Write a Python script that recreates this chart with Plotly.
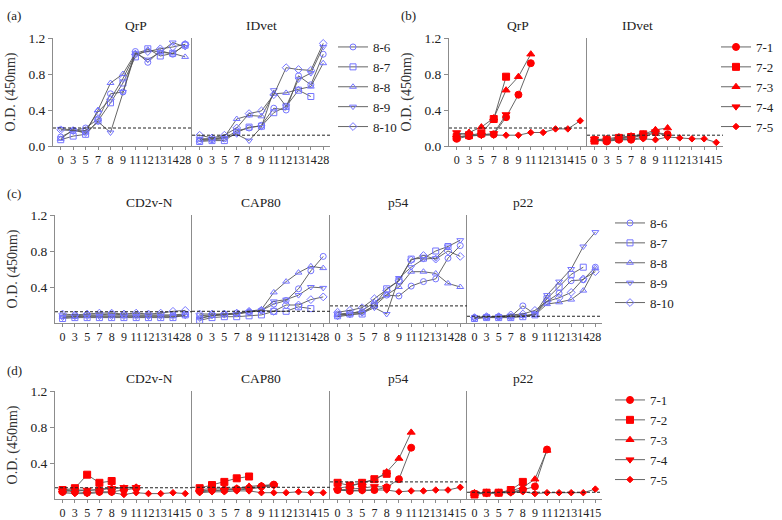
import plotly.graph_objects as go

# sampling days (x categories)
days_28 = ["0", "3", "5", "7", "8", "9", "11", "12", "13", "14", "28"]
days_15 = ["0", "3", "5", "7", "8", "9", "11", "12", "13", "14", "15"]

pigs_8 = ["8-6", "8-7", "8-8", "8-9", "8-10"]
pigs_7 = ["7-1", "7-2", "7-3", "7-4", "7-5"]

# (a) group 8 pigs, commercial kits
a_qrp = [
    [0.10, 0.17, 0.20, 0.30, 0.58, 0.60, 1.05, 0.93, 1.06, 1.02, 1.13],
    [0.07, 0.11, 0.13, 0.28, 0.48, 0.70, 0.99, 1.08, 1.00, 1.03, 1.12],
    [0.08, 0.18, 0.15, 0.40, 0.70, 0.80, 1.03, 1.07, 1.04, 1.03, 0.99],
    [0.19, 0.18, 0.14, 0.27, 0.15, 0.60, 1.03, 0.96, 1.04, 1.15, 1.10],
    [0.18, 0.17, 0.17, 0.38, 0.52, 0.75, 1.02, 1.05, 1.08, 1.10, 1.13],
]
a_idvet = [
    [0.06, 0.07, 0.08, 0.17, 0.20, 0.23, 0.42, 0.40, 0.78, 0.68, 1.02],
    [0.05, 0.06, 0.06, 0.15, 0.21, 0.22, 0.37, 0.44, 0.62, 0.55, None],
    [0.07, 0.08, 0.10, 0.30, 0.34, 0.33, 0.58, 0.59, 0.63, 0.66, 0.92],
    [0.08, 0.08, 0.09, 0.13, 0.06, 0.21, 0.62, 0.44, 0.74, 0.81, 1.10],
    [0.12, 0.09, 0.12, 0.20, 0.36, 0.39, 0.57, 0.87, 0.85, 0.84, 1.14],
]

# (b) group 7 pigs, commercial kits
b_qrp = [
    [0.08, 0.11, 0.13, 0.13, 0.32, 0.57, 0.92],
    [0.10, 0.12, 0.14, 0.30, 0.77],
    [0.12, 0.15, 0.21, 0.31, 0.62, 0.77, 1.02],
    [0.15, 0.12, 0.12, 0.14, 0.35],
    [0.10, 0.11, 0.12, 0.12, 0.12, 0.12, 0.15, 0.15, 0.19, 0.19, 0.28],
]
b_idvet = [
    [0.07, 0.05, 0.07, 0.07, 0.10, 0.15, 0.13],
    [0.06, 0.07, 0.09, 0.10, 0.13],
    [0.07, 0.08, 0.10, 0.11, 0.13, 0.18, 0.20],
    [0.08, 0.06, 0.08, 0.09, 0.12, 0.16, 0.10],
    [0.06, 0.06, 0.07, 0.07, 0.08, 0.07, 0.10, 0.09, 0.08, 0.08, 0.04],
]

# (c) group 8 pigs, in-house antigens
c_cd2v = [
    [0.08, 0.08, 0.09, 0.09, 0.10, 0.09, 0.09, 0.09, 0.09, 0.09, 0.10],
    [0.05, 0.06, 0.06, 0.06, 0.06, 0.06, 0.06, 0.06, 0.06, 0.06, 0.09],
    [0.07, 0.07, 0.08, 0.08, 0.08, 0.08, 0.08, 0.08, 0.08, 0.08, 0.09],
    [0.06, 0.07, 0.07, 0.07, 0.07, 0.07, 0.07, 0.07, 0.07, 0.07, 0.08],
    [0.10, 0.09, 0.10, 0.11, 0.11, 0.10, 0.11, 0.10, 0.11, 0.13, 0.14],
]
c_cap80 = [
    [0.08, 0.09, 0.10, 0.11, 0.12, 0.14, 0.21, 0.25, 0.38, 0.58, 0.74],
    [0.03, 0.06, 0.07, 0.07, 0.08, 0.09, 0.13, 0.13, 0.18, 0.16, None],
    [0.06, 0.08, 0.10, 0.10, 0.13, 0.15, 0.34, 0.46, 0.56, 0.63, 0.61],
    [0.05, 0.08, 0.09, 0.10, 0.12, 0.14, 0.24, 0.26, 0.31, 0.40, 0.39],
    [0.10, 0.10, 0.10, 0.11, 0.13, 0.14, 0.13, 0.20, 0.20, 0.26, 0.29],
]
c_p54 = [
    [0.10, 0.11, 0.12, 0.19, 0.31, 0.30, 0.41, 0.46, 0.49, 0.72, 0.86],
    [0.08, 0.10, 0.10, 0.20, 0.38, 0.47, 0.71, 0.72, 0.80, 0.85, None],
    [0.09, 0.10, 0.14, 0.23, 0.31, 0.40, 0.57, 0.57, 0.55, 0.44, 0.40],
    [0.07, 0.09, 0.11, 0.17, 0.10, 0.50, 0.62, 0.71, 0.72, 0.85, 0.92],
    [0.12, 0.14, 0.17, 0.27, 0.36, 0.47, 0.70, 0.75, 0.71, 0.80, 0.74],
]
c_p22 = [
    [0.06, 0.07, 0.07, 0.07, 0.19, 0.10, 0.24, 0.33, 0.47, 0.48, 0.62],
    [0.05, 0.06, 0.06, 0.06, 0.07, 0.09, 0.27, 0.40, 0.54, 0.62, None],
    [0.06, 0.06, 0.07, 0.07, 0.08, 0.09, 0.21, 0.23, 0.26, 0.36, 0.61],
    [0.05, 0.07, 0.07, 0.08, 0.08, 0.10, 0.31, 0.46, 0.60, 0.85, 1.01],
    [0.06, 0.07, 0.07, 0.09, 0.10, 0.14, 0.24, 0.28, 0.34, 0.49, 0.57],
]

# (d) group 7 pigs, in-house antigens
d_cd2v = [
    [0.08, 0.08, 0.07, 0.08, 0.08, 0.10, 0.12],
    [0.10, 0.12, 0.27, 0.18, 0.20],
    [0.10, 0.10, 0.09, 0.11, 0.12, 0.12, 0.13],
    [0.09, 0.10, 0.10, 0.10, 0.12, 0.13, 0.13],
    [0.07, 0.06, 0.06, 0.07, 0.07, 0.05, 0.07, 0.06, 0.06, 0.07, 0.06],
]
d_cap80 = [
    [0.09, 0.10, 0.10, 0.11, 0.12, 0.14, 0.16],
    [0.12, 0.155, 0.19, 0.23, 0.25],
    [0.10, 0.12, 0.12, 0.12, 0.14, 0.15, 0.16],
    [0.08, 0.09, 0.10, 0.10, 0.11, 0.13, 0.15],
    [0.07, 0.08, 0.08, 0.09, 0.09, 0.07, 0.07, 0.07, 0.08, 0.07, 0.07],
]
d_p54 = [
    [0.10, 0.09, 0.10, 0.10, 0.13, 0.22, 0.57],
    [0.18, 0.15, 0.18, 0.22, 0.28],
    [0.12, 0.14, 0.18, 0.21, 0.30, 0.45, 0.74],
    [0.10, 0.11, 0.12, 0.14, 0.13],
    [0.10, 0.09, 0.09, 0.10, 0.10, 0.08, 0.09, 0.09, 0.10, 0.10, 0.13],
]
d_p22 = [
    [0.06, 0.07, 0.07, 0.08, 0.10, 0.14, 0.55],
    [0.05, 0.07, 0.07, 0.10, 0.19],
    [0.06, 0.07, 0.07, 0.09, 0.13, 0.22, 0.54],
    [0.06, 0.06, 0.07, 0.07, 0.10],
    [0.07, 0.07, 0.07, 0.07, 0.08, 0.06, 0.07, 0.07, 0.07, 0.07, 0.11],
]

# cut-off values (dashed lines)
cut_qrp = 0.20
cut_idvet = 0.12
cut_cd2v = 0.125
cut_cap80 = 0.13
cut_p54 = 0.19
cut_p22 = 0.075

W, H = 782, 520
FONT = "Liberation Serif"
BLUE = "#7575ff"
RED = "#ff0000"
sym_open = ["circle-open", "square-open", "triangle-up-open", "triangle-down-open", "diamond-open"]
sym_fill = ["circle", "square", "triangle-up", "triangle-down", "diamond"]
size_open = [6, 6, 6, 6, 6]
size_fill = [7, 7, 7, 7, 5]

# (title, data, cutoff, days, group, x-left px, x-right px, y-zero px, y-top px, legend name, first in row)
panels = [
    ("QrP", a_qrp, cut_qrp, days_28, 8, 53, 192, 146, 38, "legend", True),
    ("IDvet", a_idvet, cut_idvet, days_28, 8, 192, 330, 146, 38, None, False),
    ("QrP", b_qrp, cut_qrp, days_15, 7, 449, 587, 146, 38, "legend2", True),
    ("IDvet", b_idvet, cut_idvet, days_15, 7, 587, 723, 146, 38, None, False),
    ("CD2v-N", c_cd2v, cut_cd2v, days_28, 8, 55, 192, 323, 215, "legend3", True),
    ("CAP80", c_cap80, cut_cap80, days_28, 8, 192, 330, 323, 215, None, False),
    ("p54", c_p54, cut_p54, days_28, 8, 330, 467, 323, 215, None, False),
    ("p22", c_p22, cut_p22, days_28, 8, 467, 602, 323, 215, None, False),
    ("CD2v-N", d_cd2v, cut_cd2v, days_15, 7, 55, 192, 499, 391, "legend4", True),
    ("CAP80", d_cap80, cut_cap80, days_15, 7, 192, 330, 499, 391, None, False),
    ("p54", d_p54, cut_p54, days_15, 7, 330, 467, 499, 391, None, False),
    ("p22", d_p22, cut_p22, days_15, 7, 467, 602, 499, 391, None, False),
]

fig = go.Figure()
layout = {}
annotations = []
shapes = []

for i, (title, data, cut, days, grp, xl, xr, yb, yt, leg, first) in enumerate(panels, start=1):
    xa = "x" if i == 1 else "x%d" % i
    ya = "y" if i == 1 else "y%d" % i
    names = pigs_8 if grp == 8 else pigs_7
    symbols = sym_open if grp == 8 else sym_fill
    sizes = size_open if grp == 8 else size_fill
    color = BLUE if grp == 8 else RED
    for k, vals in enumerate(data):
        fig.add_trace(go.Scatter(
            x=days[:len(vals)], y=vals, xaxis=xa, yaxis=ya,
            name=names[k], mode="lines+markers",
            line=dict(color="#555555", width=0.9),
            marker=dict(symbol=symbols[k], color=color, size=sizes[k],
                        line=dict(color=color, width=1)),
            showlegend=leg is not None, legend=leg if leg else "legend",
            cliponaxis=False,
        ))

    layout["xaxis" if i == 1 else "xaxis%d" % i] = dict(
        domain=[xl / W, xr / W], anchor=ya, type="category",
        categoryorder="array", categoryarray=days, range=[-0.62, 10.55],
        tickmode="array", tickvals=days, ticktext=days, tickangle=0,
        showline=True, linecolor="#8c8c8c", linewidth=1,
        ticks="outside", ticklen=3, tickcolor="#8c8c8c",
        tickfont=dict(family=FONT, size=12, color="#222"),
        showgrid=False, zeroline=False, fixedrange=True,
    )
    ytick = [0.0, 0.4, 0.8, 1.2] if yb < 200 else [0.4, 0.8, 1.2]
    layout["yaxis" if i == 1 else "yaxis%d" % i] = dict(
        domain=[1 - yb / H, 1 - yt / H], anchor=xa, range=[0, 1.2],
        showline=True, linecolor="#8c8c8c", linewidth=1,
        ticks="outside" if first else "", ticklen=4, tickcolor="#8c8c8c",
        tickvals=ytick, ticktext=["%.1f" % v for v in ytick],
        showticklabels=first,
        tickfont=dict(family=FONT, size=13.5, color="#222"),
        title=dict(text="O.D. (450nm)" if first else "", standoff=9,
                   font=dict(family=FONT, size=14, color="#333")),
        showgrid=False, zeroline=False, fixedrange=True,
    )
    shapes.append(dict(type="line", xref=xa + " domain", yref=ya, x0=0, x1=1, y0=cut, y1=cut,
                       line=dict(color="#222", width=1, dash="3px,2px")))
    annotations.append(dict(text=title, xref="paper", yref="paper",
                            x=(xl + xr) / 2 / W, y=1 - (yt - 3) / H, yanchor="bottom",
                            showarrow=False, font=dict(family=FONT, size=13.5, color="#222")))

for lab, px, py in [("(a)", 14, 15), ("(b)", 408, 15), ("(c)", 14, 193), ("(d)", 14, 370)]:
    annotations.append(dict(text=lab, xref="paper", yref="paper", x=px / W, y=1 - py / H,
                            xanchor="center", yanchor="middle", showarrow=False,
                            font=dict(family=FONT, size=13, color="#222")))

leg_style = dict(font=dict(family=FONT, size=13, color="#222"), bgcolor="rgba(0,0,0,0)",
                 itemwidth=30, tracegroupgap=0, yanchor="top", xanchor="left")
layout["legend"] = dict(x=333 / W, y=1 - 32 / H, **leg_style)
layout["legend2"] = dict(x=716 / W, y=1 - 32 / H, **leg_style)
layout["legend3"] = dict(x=610 / W, y=1 - 208 / H, **leg_style)
layout["legend4"] = dict(x=610 / W, y=1 - 385 / H, **leg_style)

fig.update_layout(
    width=W, height=H, margin=dict(l=0, r=0, t=0, b=0, autoexpand=False),
    paper_bgcolor="white", plot_bgcolor="white",
    font=dict(family=FONT, color="#222"),
    annotations=annotations, shapes=shapes, **layout,
)

# page body has a default 8px margin; remove it so the 782x520 figure fits the window
fig.write_html("out.html", config={"displayModeBar": False},
               post_script="document.body.style.margin='0';")
